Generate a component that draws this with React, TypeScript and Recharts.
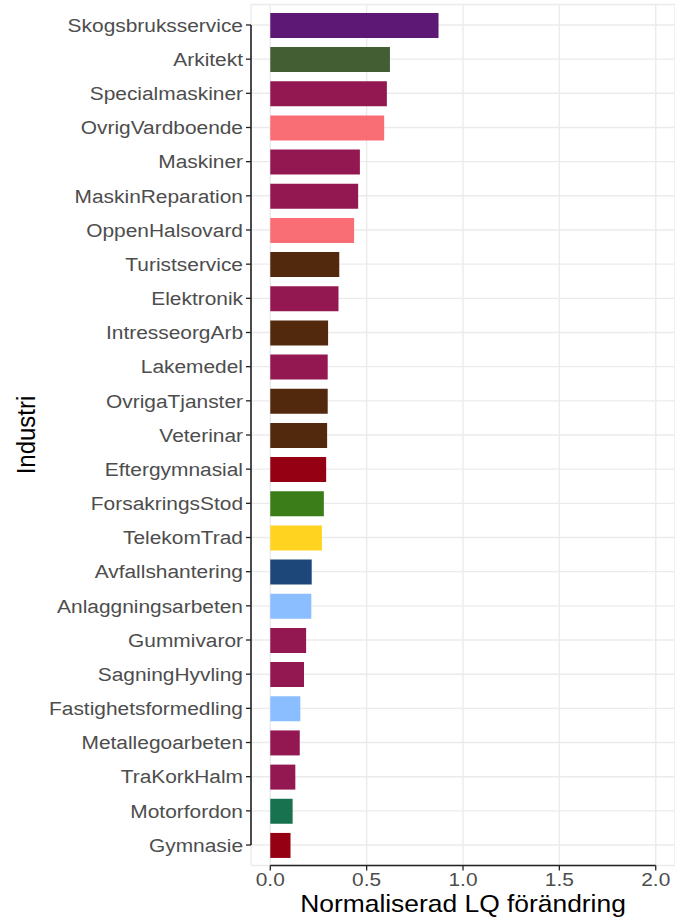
import { BarChart, Bar, XAxis, YAxis, CartesianGrid, Cell, ReferenceLine } from "recharts";

const industries = [
  "Skogsbruksservice", "Arkitekt", "Specialmaskiner", "OvrigVardboende", "Maskiner",
  "MaskinReparation", "OppenHalsovard", "Turistservice", "Elektronik", "IntresseorgArb",
  "Lakemedel", "OvrigaTjanster", "Veterinar", "Eftergymnasial", "ForsakringsStod",
  "TelekomTrad", "Avfallshantering", "Anlaggningsarbeten", "Gummivaror", "SagningHyvling",
  "Fastighetsformedling", "Metallegoarbeten", "TraKorkHalm", "Motorfordon", "Gymnasie",
];

const lqChange = [
  0.873, 0.621, 0.605, 0.591, 0.465,
  0.456, 0.435, 0.358, 0.354, 0.300,
  0.298, 0.298, 0.295, 0.290, 0.278,
  0.268, 0.215, 0.213, 0.186, 0.175,
  0.156, 0.153, 0.130, 0.116, 0.105,
];

// one fill per bar, same order as industries
const barColors = [
  "#5D1876", "#445E34", "#931852", "#F96D74", "#931852",
  "#931852", "#F96D74", "#52290C", "#931852", "#52290C",
  "#931852", "#52290C", "#52290C", "#950013", "#3A7D19",
  "#FFD31F", "#1D4679", "#8BBEFF", "#931852", "#931852",
  "#8BBEFF", "#931852", "#931852", "#18714F", "#950013",
];

const xTicks = [0, 0.5, 1, 1.5, 2];

const data = industries.map((name, i) => ({ name, value: lqChange[i] }));

const FONT = "'Liberation Sans', Arial, Helvetica, sans-serif";
const STRETCH = 1.1;

function YTick(props: any) {
  const { x, y, payload } = props;
  return (
    <text
      transform={`translate(${x},${y}) scale(${STRETCH},1)`}
      textAnchor="end"
      dy="0.355em"
      fontSize={19}
      fontFamily={FONT}
      fill="#4D4D4D"
    >
      {payload.value}
    </text>
  );
}

function XTick(props: any) {
  const { x, y, payload } = props;
  return (
    <text
      transform={`translate(${x},${y}) scale(${STRETCH},1)`}
      textAnchor="middle"
      dy="0.71em"
      fontSize={19}
      fontFamily={FONT}
      fill="#4D4D4D"
    >
      {Number(payload.value).toFixed(1)}
    </text>
  );
}

function XTitle(props: any) {
  const vb = props.viewBox;
  return (
    <text
      transform={`translate(${vb.x + vb.width / 2},${vb.y + 46.5}) scale(${STRETCH},1)`}
      textAnchor="middle"
      fontSize={24}
      fontFamily={FONT}
      fill="#000"
    >
      Normaliserad LQ förändring
    </text>
  );
}

function YTitle(props: any) {
  const vb = props.viewBox;
  return (
    <text
      transform={`translate(34.5,${vb.y + vb.height / 2}) scale(${STRETCH},1) rotate(-90)`}
      textAnchor="middle"
      fontSize={24}
      fontFamily={FONT}
      fill="#000"
    >
      Industri
    </text>
  );
}

export default function App() {
  // hidden row-index axis (row 0 at top) padded like the category axis,
  // used to draw the capped axis lines
  const lastIdx = industries.length - 1;
  return (
    <div style={{ position: "absolute", left: 0, top: 0, background: "#fff" }}>
      <BarChart
        width={675}
        height={919}
        data={data}
        layout="vertical"
        margin={{ top: 4.5, right: 0, bottom: 0, left: 0 }}
      >
        <CartesianGrid stroke="#EBEBEB" strokeWidth={1.4} />
        <XAxis
          type="number"
          domain={[-0.1, 2.1]}
          ticks={xTicks}
          allowDataOverflow
          height={53.5}
          axisLine={false}
          tickLine={{ stroke: "#222", strokeWidth: 1.3 }}
          tickSize={5}
          tickMargin={2}
          tick={<XTick />}
          label={<XTitle />}
        />
        <YAxis
          type="category"
          dataKey="name"
          width={251}
          padding={{ top: 3.4, bottom: 3.4 }}
          axisLine={false}
          tickLine={{ stroke: "#222", strokeWidth: 1.3 }}
          tickSize={5}
          tickMargin={3}
          interval={0}
          tick={<YTick />}
          label={<YTitle />}
        />
        <YAxis
          yAxisId="idx"
          type="number"
          domain={[0, lastIdx]}
          padding={{ top: 20.5, bottom: 20.5 }}
          allowDataOverflow
          hide
        />
        <Bar dataKey="value" barSize={25} isAnimationActive={false}>
          {data.map((d, i) => (
            <Cell key={d.name} fill={barColors[i]} />
          ))}
        </Bar>
        {/* capped axis lines, from first to last break like the original */}
        <ReferenceLine
          yAxisId="idx"
          segment={[{ x: -0.1, y: 0 }, { x: -0.1, y: lastIdx }]}
          stroke="#222"
          strokeWidth={1.6}
          ifOverflow="visible"
        />
        <ReferenceLine
          yAxisId="idx"
          segment={[{ x: 0, y: lastIdx + 0.6 }, { x: 2, y: lastIdx + 0.6 }]}
          stroke="#222"
          strokeWidth={1.6}
          ifOverflow="visible"
        />
      </BarChart>
    </div>
  );
}
